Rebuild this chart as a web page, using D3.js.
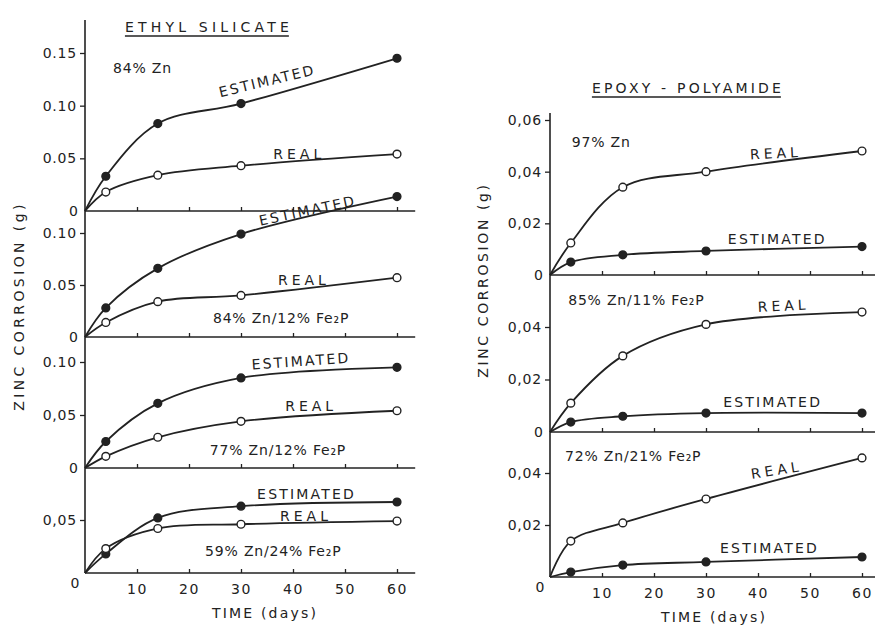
<!DOCTYPE html>
<meta charset="utf-8">
<style>
  body { margin: 0; background: #fff; }
  text { font-family: "DejaVu Sans", sans-serif; fill: #222; }
</style>
<svg width="875" height="625"></svg>
<script src="https://d3js.org/d3.v7.min.js"></script>
<script>

// time in days of each measurement
var days = [4, 14, 30, 60],
    xTicks = [10, 20, 30, 40, 50, 60];

// ethyl silicate panels, top to bottom
var ethylNames = ["84% Zn", "84% Zn/12% Fe₂P", "77% Zn/12% Fe₂P", "59% Zn/24% Fe₂P"];
var ethylEstimated = [
  [0.033, 0.083, 0.102, 0.145],
  [0.028, 0.066, 0.099, 0.135],
  [0.025, 0.061, 0.085, 0.095],
  [0.018, 0.052, 0.063, 0.067]
];
var ethylReal = [
  [0.018, 0.034, 0.043, 0.054],
  [0.014, 0.034, 0.040, 0.057],
  [0.011, 0.029, 0.044, 0.054],
  [0.023, 0.042, 0.046, 0.049]
];
var ethylTicks = [[0.05, 0.10, 0.15], [0.05, 0.10], [0.05, 0.10], [0.05]];
var ethylTickLabels = [["0.05", "0.10", "0.15"], ["0.05", "0.10"], ["0,05", "0.10"], ["0,05"]];

// epoxy-polyamide panels, top to bottom
var epoxyNames = ["97% Zn", "85% Zn/11% Fe₂P", "72% Zn/21% Fe₂P"];
var epoxyEstimated = [
  [0.0050, 0.0078, 0.0093, 0.0110],
  [0.0038, 0.0060, 0.0072, 0.0072],
  [0.0019, 0.0046, 0.0058, 0.0077]
];
var epoxyReal = [
  [0.0124, 0.0340, 0.0400, 0.0480],
  [0.0110, 0.0290, 0.0410, 0.0457],
  [0.0138, 0.0208, 0.0300, 0.0458]
];
var epoxyTicks = [[0.02, 0.04, 0.06], [0.02, 0.04], [0.02, 0.04]];
var epoxyTickLabels = [["0,02", "0,04", "0,06"], ["0,02", "0,04"], ["0,02", "0,04"]];

var svg = d3.select("svg");

var ink = "#222";

function block(opt) {
  var x = d3.scaleLinear().domain([0, 60]).range(opt.xRange);
  var g = svg.append("g");
  var n = opt.panels.length;

  // title, underlined
  var t = g.append("text")
      .attr("x", opt.title[1]).attr("y", opt.title[2])
      .attr("text-anchor", "middle")
      .style("font-size", "14px").style("letter-spacing", opt.title[3] + "px")
      .text(opt.title[0]);
  var bb = t.node().getBBox();
  g.append("line")
      .attr("x1", bb.x).attr("x2", bb.x + bb.width - opt.title[3])
      .attr("y1", opt.title[2] + 4).attr("y2", opt.title[2] + 4)
      .attr("stroke", ink).attr("stroke-width", 1.6);

  // y axis title
  g.append("text")
      .attr("transform", "translate(" + opt.yTitle[0] + "," + opt.yTitle[1] + ") rotate(-90)")
      .attr("text-anchor", "middle")
      .style("font-size", "14px").style("letter-spacing", opt.yTitle[2] + "px")
      .text("ZINC CORROSION (g)");

  var bottom = 0;
  opt.panels.forEach(function(p, i) {
    var y = d3.scaleLinear().domain([0, p.max]).range(p.range);
    bottom = p.range[0];
    var pg = g.append("g");

    // annotations
    p.notes.forEach(function(a) {
      pg.append("text")
          .attr("transform", "translate(" + x(a[1]) + "," + y(a[2]) + ") rotate(" + (a[3] || 0) + ")")
          .style("font-size", "14px")
          .style("letter-spacing", a[0] === "REAL" ? "4px" : (a[0] === "ESTIMATED" ? "2.2px" : "0.8px"))
          .text(a[0]);
    });

    // zero line with inward ticks
    pg.append("line")
        .attr("x1", x(0)).attr("x2", x(63.5))
        .attr("y1", y(0)).attr("y2", y(0))
        .attr("stroke", ink).attr("stroke-width", 1.6);
    var xa = pg.append("g")
        .attr("transform", "translate(0," + y(0) + ")")
        .call(d3.axisTop(x).tickValues(xTicks).tickSize(4).tickFormat(""));
    xa.select(".domain").remove();
    xa.selectAll("line").attr("stroke", ink).attr("stroke-width", 1.3);

    // y ticks
    var ya = pg.append("g")
        .attr("transform", "translate(" + x(0) + ",0)")
        .call(d3.axisLeft(y).tickValues(p.ticks).tickSize(5).tickPadding(3)
          .tickFormat(function(d, j) { return p.tickLabels[j]; }));
    ya.select(".domain").remove();
    ya.selectAll("line").attr("stroke", ink).attr("stroke-width", 1.3);
    ya.selectAll("text").style("font-size", "14px").style("letter-spacing", "0.8px")
        .style("font-family", "DejaVu Sans").attr("fill", "#222");

    if (i < n - 1) {
      pg.append("text")
          .attr("x", x(0) - 7).attr("y", y(0)).attr("dy", "0.35em")
          .attr("text-anchor", "end").style("font-size", "14px")
          .text("0");
    }

    var line = d3.line()
        .x(function(d) { return x(d[0]); })
        .y(function(d) { return y(d[1]); })
        .curve(d3.curveCatmullRom.alpha(0.5));

    [["est", p.est], ["real", p.real]].forEach(function(s) {
      var pts = [[0, 0]].concat(days.map(function(d, k) { return [d, s[1][k]]; }));
      pg.append("path")
          .attr("d", line(pts))
          .attr("fill", "none").attr("stroke", ink).attr("stroke-width", 1.8);
      pg.selectAll(null)
        .data(pts.slice(1))
        .enter().append("circle")
          .attr("cx", function(d) { return x(d[0]); })
          .attr("cy", function(d) { return y(d[1]); })
          .attr("r", 3.9)
          .attr("fill", s[0] === "est" ? ink : "#fff")
          .attr("stroke", ink).attr("stroke-width", 1.4);
    });
  });

  // vertical axis line
  g.append("line")
      .attr("x1", x(0)).attr("x2", x(0))
      .attr("y1", opt.axisTop).attr("y2", bottom)
      .attr("stroke", ink).attr("stroke-width", 1.6);

  // time axis labels
  var bx = g.append("g")
      .attr("transform", "translate(0," + bottom + ")")
      .call(d3.axisBottom(x).tickValues(xTicks).tickSize(0).tickPadding(11));
  bx.select(".domain").remove();
  bx.selectAll("text").style("font-size", "14px").style("letter-spacing", "1.5px")
      .style("font-family", "DejaVu Sans").attr("fill", "#222");
  g.append("text")
      .attr("x", x(0) - 10).attr("y", bottom + 15)
      .style("font-size", "14px").attr("text-anchor", "middle")
      .text("0");

  g.append("text")
      .attr("x", opt.xTitleX).attr("y", bottom + 45)
      .attr("text-anchor", "middle")
      .style("font-size", "14px").style("letter-spacing", "2.2px")
      .text("TIME (days)");
}

block({
  xRange: [85, 397],
  axisTop: 20,
  title: ["ETHYL SILICATE", 209, 32, 4.2],
  yTitle: [24, 306, 3.4],
  xTitleX: 265,
  panels: [
    { max: 0.15, range: [211, 53], ticks: ethylTicks[0], tickLabels: ethylTickLabels[0],
      est: ethylEstimated[0], real: ethylReal[0],
      notes: [[ethylNames[0], 5.4, 0.131], ["ESTIMATED", 26, 0.108, -13.5], ["REAL", 36.2, 0.049]] },
    { max: 0.10, range: [337, 233], ticks: ethylTicks[1], tickLabels: ethylTickLabels[1],
      est: ethylEstimated[1], real: ethylReal[1],
      notes: [[ethylNames[1], 24.6, 0.0135], ["ESTIMATED", 33.7, 0.107, -12], ["REAL", 37.1, 0.050]] },
    { max: 0.10, range: [468, 362], ticks: ethylTicks[2], tickLabels: ethylTickLabels[2],
      est: ethylEstimated[2], real: ethylReal[2],
      notes: [[ethylNames[2], 24.0, 0.0123], ["ESTIMATED", 32.1, 0.093, -4], ["REAL", 38.5, 0.054]] },
    { max: 0.05, range: [573, 520], ticks: ethylTicks[3], tickLabels: ethylTickLabels[3],
      est: ethylEstimated[3], real: ethylReal[3],
      notes: [[ethylNames[3], 23.1, 0.016], ["ESTIMATED", 33.1, 0.070], ["REAL", 37.5, 0.049]] }
  ]
});

block({
  xRange: [550, 862],
  axisTop: 113,
  title: ["EPOXY - POLYAMIDE", 688, 93, 3.2],
  yTitle: [488, 280, 2.6],
  xTitleX: 714,
  panels: [
    { max: 0.06, range: [275, 120], ticks: epoxyTicks[0], tickLabels: epoxyTickLabels[0],
      est: epoxyEstimated[0], real: epoxyReal[0],
      notes: [[epoxyNames[0], 4.2, 0.0497], ["REAL", 38.5, 0.0447, -3], ["ESTIMATED", 34.2, 0.012]] },
    { max: 0.04, range: [432, 327], ticks: epoxyTicks[1], tickLabels: epoxyTickLabels[1],
      est: epoxyEstimated[1], real: epoxyReal[1],
      notes: [[epoxyNames[1], 3.5, 0.0484], ["REAL", 40, 0.0457, -3], ["ESTIMATED", 33.3, 0.0095]] },
    { max: 0.04, range: [577, 473], ticks: epoxyTicks[2], tickLabels: epoxyTickLabels[2],
      est: epoxyEstimated[2], real: epoxyReal[2],
      notes: [[epoxyNames[2], 2.9, 0.0446], ["REAL", 38.8, 0.0377, -9], ["ESTIMATED", 32.7, 0.0092]] }
  ]
});

</script>
